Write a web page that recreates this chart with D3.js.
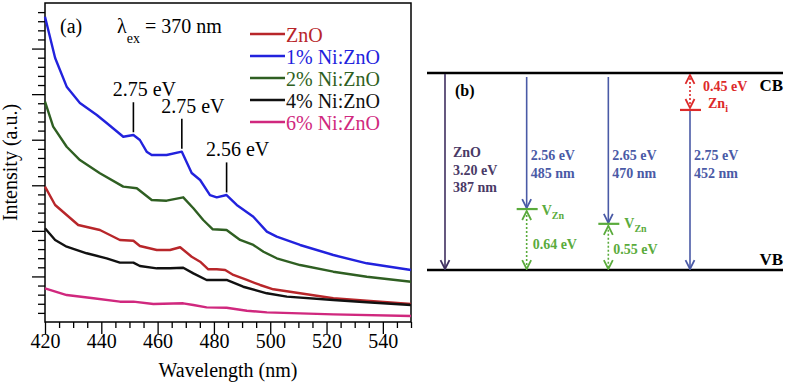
<!DOCTYPE html>
<html>
<head>
<meta charset="utf-8">
<script src="https://cdn.jsdelivr.net/npm/d3@7"></script>
<style>
  body { margin: 0; background: #fff; }
  svg text { font-family: "Liberation Serif", "Times New Roman", serif; }
</style>
</head>
<body>
<div id="chart"></div>
<script>
// ---- panel (a) data: [wavelength nm, intensity a.u.]
const zno = [[420,14.85],[423.6,12.84],[427.7,11.74],[431.8,10.64],[439.5,10.09],[446.6,9.0],[451.4,8.92],[453.7,8.34],
  [459.7,7.9],[464.4,7.9],[468,8.2],[472.1,7.16],[475.1,6.62],[478,5.78],[481,5.78],[484,5.71],[486.9,5.16],
  [491.7,4.61],[496.4,4.06],[501.1,3.59],[510.6,3.15],[522.4,2.6],[534.3,2.34],[550,1.97]];
const ni1 = [[420,33.5],[423.6,28.97],[427.7,25.82],[432.4,24.03],[438.4,22.71],[441.9,21.83],[447.8,20.33],[451.4,20.52],
  [453.7,19.97],[456.1,18.69],[457.9,18.32],[463.2,18.32],[468.6,18.69],[472.1,16.35],[475.1,15.58],[478.6,13.93],
  [481,13.68],[484.5,13.93],[488.1,12.84],[494,11.55],[498.8,9.91],[502.3,9.36],[510.6,8.45],[522.4,7.35],[534.3,6.44],[550,5.71]];
const ni2 = [[420,24.17],[422.9,21.43],[427.7,19.23],[432.4,17.77],[439.5,16.32],[447.8,14.85],[452.6,14.67],[457.9,13.39],
  [463.2,13.31],[469.1,13.68],[472.7,12.48],[476.2,11.19],[479.6,10.17],[484.5,10.09],[489.3,9.0],[494,8.45],
  [497.6,7.71],[502.3,6.99],[510.6,6.25],[522.4,5.52],[534.3,4.97],[550,4.42]];
const ni4 = [[420,10.28],[423.6,9.0],[427.7,8.26],[434.8,7.54],[441.9,6.99],[446.6,6.51],[451.4,6.51],[453.7,6.14],
  [459.7,5.89],[464.4,5.89],[469.1,5.96],[472.7,5.34],[477.4,4.61],[484.5,4.61],[490.4,3.87],[498.8,3.15],
  [505.9,2.78],[522.4,2.41],[534.3,2.16],[550,1.87]];
const ni6 = [[420,3.7],[427.7,2.96],[437.2,2.6],[446.6,2.23],[451.4,2.23],[458.5,1.97],[469.1,2.05],[472.7,1.87],
  [477.4,1.61],[484.5,1.57],[491.7,1.24],[498.8,1.06],[510.6,0.95],[522.4,0.84],[550,0.66]];

const seriesNames = ["ZnO", "1% Ni:ZnO", "2% Ni:ZnO", "4% Ni:ZnO", "6% Ni:ZnO"];
const seriesData = [zno, ni1, ni2, ni4, ni6];
const seriesColors = ["#b8262a", "#2222dd", "#2f5f22", "#111111", "#d0287e"];

const xTicks = [420, 440, 460, 480, 500, 520, 540];

// peak annotations: [wavelength, intensity at peak, label]
const peaks = [[451.4, 20.6, "2.75 eV"], [468.6, 18.8, "2.75 eV"], [484.5, 14.0, "2.56 eV"]];

// ---- panel (b) data
const transitions = ["ZnO", "V1", "V2", "Zni"];
const transLabels = [["ZnO", "3.20 eV", "387 nm"], ["2.56 eV", "485 nm"], ["2.65 eV", "470 nm"], ["2.75 eV", "452 nm"]];
// schematic level heights (diagram units, VB = 0, CB = 3.2)
const levelCB = 3.2, levelVB = 0;
const levelVzn1 = 0.99, levelVzn2 = 0.75, levelZni = 2.6;
const gapLabels = ["0.64 eV", "0.55 eV", "0.45 eV"];

const width = 790, height = 383;
const serif = "'Liberation Serif', 'Times New Roman', serif";
const svg = d3.select("#chart").append("svg")
  .attr("width", width).attr("height", height);

// ================= panel (a)
const m = { top: 3, left: 45, right: 411, bottom: 322 };
const x = d3.scaleLinear().domain([420, 550]).range([m.left, m.right]);
const y = d3.scaleLinear().domain([0, 35]).range([m.bottom, m.top]);

const pa = svg.append("g");

// frame
pa.append("rect")
  .attr("x", m.left).attr("y", m.top)
  .attr("width", m.right - m.left).attr("height", m.bottom - m.top)
  .attr("fill", "none").attr("stroke", "#000").attr("stroke-width", 1.5);

// x axis, minor + major
pa.append("g")
  .attr("transform", `translate(0,${m.bottom})`)
  .call(d3.axisBottom(x).tickValues(d3.range(425, 551, 5).filter(v => v % 20 !== 0)).tickSize(6).tickFormat(""))
  .call(g => g.select(".domain").remove())
  .call(g => g.selectAll("line").attr("stroke-width", 1.3));
pa.append("g")
  .attr("transform", `translate(0,${m.bottom})`)
  .call(d3.axisBottom(x).tickValues(xTicks).tickSize(12).tickPadding(0).tickFormat(d => d))
  .call(g => g.select(".domain").remove())
  .call(g => g.selectAll("line").attr("stroke-width", 1.3))
  .call(g => g.selectAll("text").attr("fill", "#000")
    .style("font-size", "20px").style("font-family", serif));

// y axis, no labels
pa.append("g")
  .attr("transform", `translate(${m.left},0)`)
  .call(d3.axisLeft(y).tickValues(d3.range(1, 35, 1).filter(v => v % 5 !== 0)).tickSize(7).tickFormat(""))
  .call(g => g.select(".domain").remove())
  .call(g => g.selectAll("line").attr("stroke-width", 1.3));
pa.append("g")
  .attr("transform", `translate(${m.left},0)`)
  .call(d3.axisLeft(y).tickValues(d3.range(5, 35, 5)).tickSize(13).tickFormat(""))
  .call(g => g.select(".domain").remove())
  .call(g => g.selectAll("line").attr("stroke-width", 1.3));

// axis titles
pa.append("text")
  .attr("x", (m.left + m.right) / 2).attr("y", 377)
  .attr("text-anchor", "middle").attr("font-size", 20)
  .text("Wavelength (nm)");
pa.append("text")
  .attr("transform", `translate(17,${(m.top + m.bottom) / 2}) rotate(-90)`)
  .attr("text-anchor", "middle").attr("font-size", 20)
  .text("Intensity (a.u.)");

// curves
const line = d3.line().x(d => x(d[0])).y(d => y(d[1]));
seriesData.forEach((s, i) => {
  pa.append("path")
    .datum(s)
    .attr("fill", "none")
    .attr("stroke", seriesColors[i])
    .attr("stroke-width", 2.4)
    .attr("stroke-linejoin", "round")
    .attr("d", line);
});

// peak markers
peaks.forEach(p => {
  pa.append("line")
    .attr("x1", x(p[0])).attr("x2", x(p[0]))
    .attr("y1", y(p[1]) - 2).attr("y2", y(p[1]) - 32)
    .attr("stroke", "#000").attr("stroke-width", 1.6);
  pa.append("text")
    .attr("x", x(p[0]) + 11).attr("y", y(p[1]) - 38)
    .attr("text-anchor", "middle").attr("font-size", 20)
    .text(p[2]);
});

pa.append("text").attr("x", 60).attr("y", 33).attr("font-size", 20).text("(a)");
const lam = pa.append("text").attr("x", 117).attr("y", 33).attr("font-size", 20);
lam.append("tspan").text("λ");
lam.append("tspan").attr("dy", 10).attr("font-size", 14).text("ex");
lam.append("tspan").attr("dy", -10).text(" = 370 nm");

// legend
const lg = pa.append("g").attr("transform", "translate(250,34)");
seriesNames.forEach((n, i) => {
  lg.append("line")
    .attr("x1", 0).attr("x2", 35)
    .attr("y1", i * 22).attr("y2", i * 22)
    .attr("stroke", seriesColors[i]).attr("stroke-width", 2.4);
  lg.append("text")
    .attr("x", 36).attr("y", i * 22 + 8)
    .attr("font-size", 20).attr("fill", seriesColors[i])
    .text(n);
});

// ================= panel (b)
const pb = svg.append("g");
const ey = d3.scaleLinear().domain([levelVB, levelCB]).range([270, 73]);
const tx = d3.scalePoint().domain(transitions).range([445, 690]);

const cPurple = "#3f2f60", cBlue = "#4a5aa6", cGreen = "#5aab3c", cRed = "#dd2a2a";

const defs = svg.append("defs");
function marker(id, color) {
  defs.append("marker")
    .attr("id", id).attr("viewBox", "0 0 10 10")
    .attr("refX", 9).attr("refY", 5)
    .attr("markerWidth", 7).attr("markerHeight", 7)
    .attr("orient", "auto-start-reverse")
    .append("path").attr("d", "M1,1 L9,5 L1,9")
    .attr("fill", "none").attr("stroke", color).attr("stroke-width", 1.6);
}
marker("aPurple", cPurple);
marker("aBlue", cBlue);
marker("aGreen", cGreen);
marker("aRed", cRed);

// band edges
[levelCB, levelVB].forEach(v => {
  pb.append("line")
    .attr("x1", 427).attr("x2", 783)
    .attr("y1", ey(v)).attr("y2", ey(v))
    .attr("stroke", "#000").attr("stroke-width", 2.6);
});
pb.append("text").attr("x", 783).attr("y", ey(levelCB) + 18).attr("text-anchor", "end")
  .attr("font-size", 17).attr("font-weight", "bold").text("CB");
pb.append("text").attr("x", 783).attr("y", ey(levelVB) - 5).attr("text-anchor", "end")
  .attr("font-size", 17).attr("font-weight", "bold").text("VB");
pb.append("text").attr("x", 455).attr("y", 96)
  .attr("font-size", 16).attr("font-weight", "bold").text("(b)");

function arrow(xp, y1, y2, color, mk, dashed, both) {
  const l = pb.append("line")
    .attr("x1", xp).attr("x2", xp).attr("y1", y1).attr("y2", y2)
    .attr("stroke", color).attr("stroke-width", 1.6)
    .attr("marker-end", `url(#${mk})`);
  if (both) l.attr("marker-start", `url(#${mk})`);
  if (dashed) l.attr("stroke-dasharray", "2,2");
}
function level(xp, v, color) {
  pb.append("line")
    .attr("x1", xp - 10).attr("x2", xp + 11)
    .attr("y1", ey(v)).attr("y2", ey(v))
    .attr("stroke", color).attr("stroke-width", 2.2);
}

// transitions
arrow(tx("ZnO"), ey(levelCB) + 1, ey(levelVB) - 1, cPurple, "aPurple");
arrow(tx("V1"), ey(levelCB) + 4, ey(levelVzn1) - 1, cBlue, "aBlue");
arrow(tx("V2"), ey(levelCB) + 4, ey(levelVzn2) - 1, cBlue, "aBlue");
arrow(tx("Zni"), ey(levelZni), ey(levelVB) - 1, cBlue, "aBlue");

// defect levels
level(tx("V1"), levelVzn1, cGreen);
level(tx("V2"), levelVzn2, cGreen);
level(tx("Zni"), levelZni, cRed);
arrow(tx("V1"), ey(levelVzn1) + 2, ey(levelVB) - 1, cGreen, "aGreen", true, true);
arrow(tx("V2"), ey(levelVzn2) + 2, ey(levelVB) - 1, cGreen, "aGreen", true, true);
arrow(tx("Zni"), ey(levelZni) - 2, ey(levelCB) + 2, cRed, "aRed", true, true);

// labels
transLabels.forEach((ls, i) => {
  const xp = tx(transitions[i]) + (i === 0 ? 8 : 4);
  const c = i === 0 ? "#4a3a66" : cBlue;
  const y0 = i === 0 ? 157 : 160;
  ls.forEach((t, j) => {
    pb.append("text").attr("x", xp).attr("y", y0 + j * 17.5)
      .attr("font-size", 14).attr("font-weight", "bold").attr("fill", c)
      .text(t);
  });
});

function sub(xp, yp, main, s, color) {
  const t = pb.append("text").attr("x", xp).attr("y", yp)
    .attr("font-size", 14).attr("font-weight", "bold").attr("fill", color);
  t.append("tspan").text(main);
  t.append("tspan").attr("dy", 4).attr("font-size", 10).text(s);
}
sub(tx("V1") + 15, ey(levelVzn1) + 6, "V", "Zn", cGreen);
sub(tx("V2") + 16, ey(levelVzn2) + 4, "V", "Zn", cGreen);
sub(tx("Zni") + 18, ey(levelZni) - 2, "Zn", "i", cRed);

pb.append("text").attr("x", tx("V1") + 6).attr("y", 249)
  .attr("font-size", 14).attr("font-weight", "bold").attr("fill", cGreen).text(gapLabels[0]);
pb.append("text").attr("x", tx("V2") + 5).attr("y", 254)
  .attr("font-size", 14).attr("font-weight", "bold").attr("fill", cGreen).text(gapLabels[1]);
pb.append("text").attr("x", tx("Zni") + 13).attr("y", 91)
  .attr("font-size", 14).attr("font-weight", "bold").attr("fill", cRed).text(gapLabels[2]);
</script>
</body>
</html>
